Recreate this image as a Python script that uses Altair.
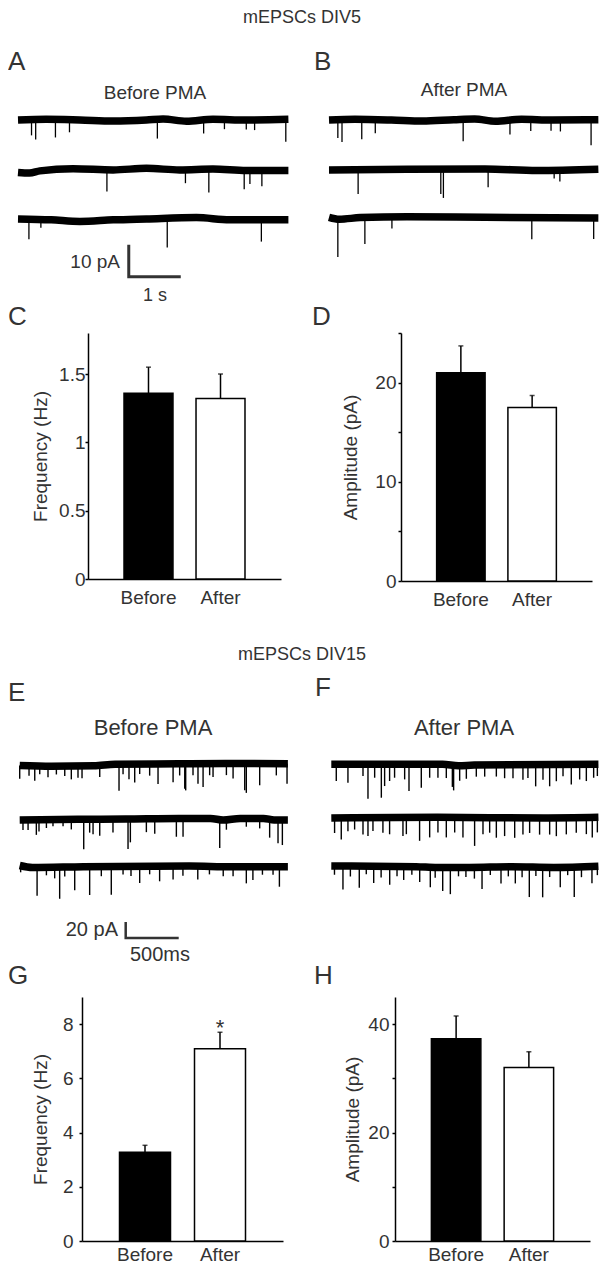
import altair as alt
import numpy as np
import pandas as pd

FONT = "Liberation Sans"
INK = "#333333"

# ---------------- bar-chart data ----------------
groups = ["Before", "After"]
C_freq = [1.36, 1.32]
C_freq_top = [1.55, 1.50]
D_amp = [21.0, 17.5]
D_amp_top = [23.7, 18.7]
G_freq = [3.27, 7.09]
G_freq_top = [3.53, 7.70]
G_sig = ["", "*"]
H_amp = [37.3, 32.0]
H_amp_top = [41.5, 34.9]

C_ticks = [0, 0.5, 1, 1.5]
D_ticks = [0, 5, 10, 15, 20, 25]
G_ticks = [0, 2, 4, 6, 8]
H_ticks = [0, 10, 20, 30, 40]

# ---------------- DIV5 traces: event times (s), amplitudes (pA), baseline drift ----------------
A1_t = [0.26, 0.34, 0.72, 0.99, 2.68, 3.57, 3.97, 4.39, 4.55, 5.15]
A1_a = [4.9, 6.2, 5.6, 3.9, 6.0, 4.2, 3.0, 3.0, 3.2, 7.0]
A1_wt = [0, 0.54, 1.19, 1.83, 2.47, 2.79, 3.24, 3.75, 4.39, 5.2]
A1_wv = [0, 0.2, 0, -0.3, 0, 0.3, -0.4, 0.2, 0, 0.2]

A2_t = [1.71, 3.22, 3.67, 4.35, 4.46, 4.69]
A2_a = [6.8, 4.2, 7.3, 5.9, 4.2, 4.9]
A2_wt = [0, 0.22, 0.42, 1.06, 1.83, 2.47, 3.11, 3.75, 4.39, 5.2]
A2_wv = [-0.8, -1.0, -0.3, 0.4, 0, 0.5, 0, 0.3, -0.2, -0.2]

A3_t = [0.21, 0.44, 2.87, 4.68]
A3_a = [6.3, 2.6, 9.1, 6.8]
A3_wt = [0, 0.64, 1.19, 1.83, 2.47, 3.43, 4.07, 5.2]
A3_wv = [0.3, 0, -0.5, 0, 0.3, 0.7, 0, 0]

B1_t = [0.17, 0.25, 0.63, 0.89, 2.58, 3.48, 3.88, 4.27, 4.45, 5.04]
B1_a = [5.7, 7.0, 6.2, 4.2, 6.8, 4.5, 3.6, 3.4, 3.6, 8.0]
B1_wt = [0, 0.5, 1.2, 1.8, 2.4, 2.8, 3.2, 3.7, 4.3, 5.18]
B1_wv = [0, 0.2, 0, -0.3, 0.1, 0.3, -0.4, 0.2, 0, 0.1]

B2_t = [0.56, 2.15, 2.2, 3.06, 4.33, 4.44]
B2_a = [7.6, 7.8, 9.0, 5.7, 2.6, 3.6]
B2_wt = [0, 1.5, 3.0, 4.0, 5.18]
B2_wv = [0, 0.2, 0.3, -0.2, 0.2]

B3_t = [0.17, 0.69, 1.21, 3.9, 5.09]
B3_a = [11.9, 8.3, 3.6, 6.8, 6.6]
B3_wt = [0, 0.2, 0.6, 1.5, 3.0, 5.18]
B3_wv = [0.2, -0.4, 0.1, 0.4, 0.2, 0]

# ---------------- DIV15 traces ----------------
E1_t = [0.0, 0.088, 0.142, 0.189, 0.267, 0.346, 0.425, 0.487, 0.55, 0.588, 0.755, 0.937,
        0.975, 1.031, 1.085, 1.132, 1.226, 1.305, 1.447, 1.509, 1.557, 1.566, 1.635, 1.682,
        1.73, 1.792, 1.824, 1.95, 2.013, 2.123, 2.138, 2.264, 2.421, 2.522]
E1_a = [16.7, 12.5, 18.8, 10.4, 13.8, 10.4, 12.5, 16.7, 14.6, 15.4, 14.6, 33.3,
        12.5, 18.8, 22.9, 12.5, 14.6, 25.0, 22.9, 14.6, 31.3, 33.3, 14.6, 25.0,
        29.2, 14.6, 16.7, 14.6, 18.8, 33.3, 36.7, 27.1, 14.6, 25.0]
E1_wt = [0, 0.3, 0.7, 0.9, 1.5, 2.0, 2.53]
E1_wv = [-0.5, -1.5, -1, 1, 1.5, 2, 1.5]

E2_t = [0.031, 0.079, 0.157, 0.182, 0.252, 0.314, 0.409, 0.487, 0.604, 0.66, 0.692, 0.755,
        0.88, 1.022, 1.044, 1.195, 1.274, 1.478, 1.541, 1.887, 1.95, 2.138, 2.264, 2.358,
        2.437, 2.478]
E2_a = [12.5, 12.5, 18.8, 14.6, 10.4, 8.3, 8.3, 12.5, 37.5, 16.7, 18.8, 20.8,
        16.7, 37.5, 29.2, 16.7, 18.8, 22.9, 22.9, 35.4, 12.5, 10.4, 12.5, 22.9,
        29.2, 31.3]
E2_wt = [0, 0.55, 1.0, 1.5, 1.8, 1.92, 2.08, 2.3, 2.4, 2.53]
E2_wv = [0, 0.8, 1.2, 2, 2, 0, 2, 2, 0, 0]

E3_t = [0.009, 0.164, 0.252, 0.33, 0.377, 0.425, 0.519, 0.66, 0.77, 0.864, 0.975, 1.05,
        1.132, 1.226, 1.32, 1.447, 1.54, 1.68, 1.79, 1.92, 2.013, 2.138, 2.2, 2.29, 2.39, 2.45]
E3_a = [8.3, 35.4, 10.0, 14.0, 39.6, 12.0, 29.2, 35.4, 12.0, 35.4, 10.0, 12.0,
        20.8, 10.0, 18.8, 16.7, 12.0, 16.7, 10.0, 12.0, 12.0, 20.8, 16.7, 10.0, 10.0, 25.0]
E3_wt = [0, 0.12, 0.6, 1.6, 2.0, 2.53]
E3_wv = [1.5, -1, 0, 0.8, 0, 0]

F1_t = [0.047, 0.157, 0.299, 0.346, 0.409, 0.472, 0.503, 0.55, 0.597, 0.692, 0.733, 0.849,
        0.928, 1.006, 1.085, 1.142, 1.154, 1.211, 1.274, 1.368, 1.447, 1.557, 1.635, 1.714,
        1.808, 1.855, 1.928, 1.997, 2.06, 2.123, 2.186, 2.264, 2.343, 2.406, 2.475, 2.51]
F1_a = [20.8, 22.9, 14.6, 42.9, 16.7, 41.7, 27.1, 20.8, 16.7, 18.8, 33.3, 29.2,
        16.7, 16.7, 16.7, 27.1, 31.3, 18.8, 16.7, 14.6, 14.6, 14.6, 16.7, 16.7,
        18.8, 16.7, 27.1, 18.8, 27.1, 20.8, 14.6, 25.0, 18.8, 20.8, 16.7, 14.6]
F1_wt = [0, 1.05, 1.2, 1.35, 2.52]
F1_wv = [0.8, 0.8, -1, 0, 0.8]

F2_t = [0.031, 0.094, 0.157, 0.22, 0.299, 0.346, 0.393, 0.487, 0.55, 0.676, 0.708, 0.833,
        0.928, 1.006, 1.085, 1.164, 1.242, 1.352, 1.431, 1.494, 1.557, 1.635, 1.73, 1.808,
        1.871, 1.965, 2.06, 2.123, 2.217, 2.311, 2.406, 2.462, 2.51]
F2_a = [18.8, 27.1, 16.7, 14.6, 20.8, 22.9, 16.7, 18.8, 20.8, 22.9, 20.8, 29.2,
        25.0, 18.8, 25.0, 18.8, 25.0, 35.4, 20.8, 18.8, 25.0, 22.9, 25.0, 20.8,
        18.8, 20.8, 20.8, 22.9, 20.8, 18.8, 20.8, 25.0, 18.8]
F2_wt = [0, 1.0, 2.0, 2.52]
F2_wv = [0, 0.8, 0, 0.8]

F3_t = [0.03, 0.11, 0.18, 0.264, 0.33, 0.4, 0.47, 0.551, 0.62, 0.683, 0.76, 0.834,
        0.934, 0.98, 1.051, 1.123, 1.2, 1.27, 1.35, 1.422, 1.5, 1.601, 1.67, 1.736,
        1.8, 1.868, 1.93, 1.994, 2.06, 2.16, 2.23, 2.292, 2.36, 2.459, 2.51]
F3_a = [11, 29.2, 13, 27.1, 10, 20.8, 14, 22.9, 12, 16.7, 10, 18.8,
        25.0, 13, 29.2, 33.3, 11, 12, 14, 27.1, 10, 20.8, 12, 20.8,
        13, 37.5, 11, 37.5, 12, 25.0, 10, 37.5, 13, 20.8, 11]
F3_wt = [0, 0.8, 1.0, 1.3, 1.7, 2.1, 2.52]
F3_wv = [1, 0, -1, -1, 0, -1, 0.5]

# ---------------- layout (pixels, inside one plot area that fits the page body) ----------------
W_ALL, H_ALL = 592, 1259


def label(text, x, y, size, align="center", baseline="middle"):
    return alt.Chart(pd.DataFrame({"s": [text]})).mark_text(
        align=align, baseline=baseline, fontSize=size, font=FONT, color=INK
    ).encode(text="s:N", x=alt.value(x), y=alt.value(y))


def trace_panel(traces, T, x_start, px_per_s, y_top, y_bottom, px_per_pA, band, spike_w,
                scalebar=None):
    xs = alt.Scale(domain=[0, T], range=[x_start, x_start + T * px_per_s],
                   nice=False, zero=False)
    vmin = -(y_bottom - y_top) / px_per_pA
    ys = alt.Scale(domain=[vmin, 0], range=[y_bottom, y_top], nice=False, zero=False)
    base_rows, spike_rows = [], []
    for name, off, st, sa, wt, wv in traces:
        for t, v in zip(wt, wv):
            base_rows.append({"trace": name, "t": t, "v": off + v})
        for t, a in zip(st, sa):
            y0 = off + float(np.interp(t, wt, wv))
            spike_rows.append({"t": t, "y0": y0, "y1": y0 - a})
    layers = [
        alt.Chart(pd.DataFrame(base_rows)).mark_line(
            color="black", strokeWidth=band, strokeCap="butt", strokeJoin="round",
            interpolate="monotone").encode(
            x=alt.X("t:Q", scale=xs, axis=None),
            y=alt.Y("v:Q", scale=ys, axis=None),
            detail="trace:N"),
        alt.Chart(pd.DataFrame(spike_rows)).mark_rule(color="black", strokeWidth=spike_w).encode(
            x=alt.X("t:Q", scale=xs, axis=None),
            y=alt.Y("y0:Q", scale=ys, axis=None),
            y2="y1:Q"),
    ]
    if scalebar is not None:
        t0, v0, dv, dt, sw = scalebar
        sb = pd.DataFrame({"o": [0, 1, 2], "t": [t0, t0, t0 + dt], "v": [v0, v0 - dv, v0 - dv]})
        layers.append(alt.Chart(sb).mark_line(color=INK, strokeWidth=sw, strokeJoin="miter",
                                              strokeCap="butt").encode(
            x=alt.X("t:Q", scale=xs, axis=None),
            y=alt.Y("v:Q", scale=ys, axis=None),
            order="o:Q"))
    return alt.layer(*layers)


def bar_panel(mean, top, ymax, ticks, label_expr, ytitle, x0, x1, y_bottom, y_top,
              title_x, gap, xlab_pad=9, sig=None):
    df = pd.DataFrame({"group": groups, "mean": mean, "top": top})
    if sig is not None:
        df["sig"] = sig
    xscale = alt.Scale(domain=groups, range=[x0, x1], paddingInner=0.32, paddingOuter=0.5)
    xaxis = alt.Axis(orient="bottom", offset=y_bottom - H_ALL, title=None, labelAngle=0,
                     ticks=False, labelPadding=xlab_pad, domainWidth=1.5, domainColor="black",
                     labelFontSize=19, labelColor=INK, labelFont=FONT)
    yscale = alt.Scale(domain=[0, ymax], range=[y_bottom, y_top], nice=False, zero=True)
    yaxis = alt.Axis(orient="left", offset=-x0, values=ticks, labelExpr=label_expr,
                     tickSize=3, tickWidth=1.5, labelPadding=max(gap - 3, 0),
                     domainWidth=1.5, domainColor="black", tickColor="black", grid=False,
                     titleX=title_x, titleY=(y_bottom + y_top) / 2, titleBaseline="middle",
                     labelFontSize=19, titleFontSize=19, titleFontWeight="normal",
                     labelColor=INK, titleColor=INK, labelFont=FONT, titleFont=FONT)
    X = alt.X("group:N", scale=xscale, axis=xaxis, title=None)

    def Y(f):
        return alt.Y(f, type="quantitative", scale=yscale, axis=yaxis, title=ytitle)

    layers = [
        alt.Chart(df).mark_bar(stroke="black", strokeWidth=1.5).encode(
            x=X, y=Y("mean"),
            fill=alt.Fill("group:N", scale=alt.Scale(domain=groups, range=["black", "white"]),
                          legend=None)),
        alt.Chart(df).mark_rule(color="black", strokeWidth=1.5).encode(
            x=X, y=Y("mean"), y2="top:Q"),
        alt.Chart(df).mark_tick(color="black", thickness=1.5, size=5).encode(
            x=X, y=Y("top")),
    ]
    if sig is not None:
        layers.append(alt.Chart(df).mark_text(fontSize=22, baseline="alphabetic", dy=3,
                                              color=INK, font=FONT).encode(
            x=X, y=Y("top"), text="sig:N"))
    return alt.layer(*layers)


panelA = trace_panel(
    [("A1", -35.0, A1_t, A1_a, A1_wt, A1_wv),
     ("A2", -50.6, A2_t, A2_a, A2_wt, A2_wv),
     ("A3", -66.2, A3_t, A3_a, A3_wt, A3_wv)],
    5.2, 10, 52, 0, 320, 3.2, 7.5, 1.3, scalebar=(2.13, -74.0, 10, 1.0, 3))
panelB = trace_panel(
    [("B1", -35.0, B1_t, B1_a, B1_wt, B1_wv),
     ("B2", -50.6, B2_t, B2_a, B2_wt, B2_wv),
     ("B3", -65.6, B3_t, B3_a, B3_wt, B3_wv)],
    5.18, 321, 52, 0, 320, 3.2, 7.5, 1.3)

panelC = bar_panel(C_freq, C_freq_top, 1.8, C_ticks, "'' + datum.value", "Frequency (Hz)",
                   80, 273, 571, 325, -48, 3)
panelD = bar_panel(D_amp, D_amp_top, 25, D_ticks,
                   "datum.value % 10 == 0 ? '' + datum.value : ''", "Amplitude (pA)",
                   393, 584, 573, 325, -51, 5)

panelE = trace_panel(
    [("E1", -231.25, E1_t, E1_a, E1_wt, E1_wv),
     ("E2", -300.0, E2_t, E2_a, E2_wt, E2_wv),
     ("E3", -358.4, E3_t, E3_a, E3_wt, E3_wv)],
    2.53, 11.7, 106, 572, 996, 0.8, 7.5, 1.4, scalebar=(1.0, -427.5, 20, 0.5, 2.5))
panelF = trace_panel(
    [("F1", -231.25, F1_t, F1_a, F1_wt, F1_wv),
     ("F2", -297.5, F2_t, F2_a, F2_wt, F2_wv),
     ("F3", -358.4, F3_t, F3_a, F3_wt, F3_wv)],
    2.52, 323.3, 106, 572, 996, 0.8, 7.5, 1.4)

panelG = bar_panel(G_freq, G_freq_top, 9, G_ticks, "'' + datum.value", "Frequency (Hz)",
                   74, 275, 1233, 989, -42, 9, xlab_pad=4, sig=G_sig)
panelH = bar_panel(H_amp, H_amp_top, 45, H_ticks,
                   "datum.value % 20 == 0 ? '' + datum.value : ''", "Amplitude (pA)",
                   387, 582, 1233, 989, -43, 6, xlab_pad=4)

texts = [
    label("mEPSCs DIV5", 294, 10, 18),
    label("A", 0, 54, 26, "left"),
    label("Before PMA", 147, 85, 19),
    label("10 pA", 112, 254, 19, "right"),
    label("1 s", 147, 288, 18),
    label("B", 306, 54, 26, "left"),
    label("After PMA", 456, 82, 19),
    label("C", 0, 309, 26, "left"),
    label("D", 304, 309, 26, "left"),
    label("mEPSCs DIV15", 294, 647, 18),
    label("E", 0, 685, 26, "left"),
    label("Before PMA", 145, 720, 22),
    label("20 pA", 110, 922, 20, "right"),
    label("500ms", 152, 947, 20),
    label("F", 307, 680, 26, "left"),
    label("After PMA", 456, 720, 22),
    label("G", 0, 968, 26, "left"),
    label("H", 306, 968, 26, "left"),
]

chart = alt.layer(
    panelA, panelB, panelC, panelD, panelE, panelF, panelG, panelH, *texts
).resolve_scale(
    x="independent", y="independent"
).properties(
    width=W_ALL, height=H_ALL, padding=0,
    autosize=alt.AutoSizeParams(type="none")
).configure(font=FONT).configure_view(strokeWidth=0)

chart.save("out.html", embed_options={"renderer": "svg", "actions": False})
